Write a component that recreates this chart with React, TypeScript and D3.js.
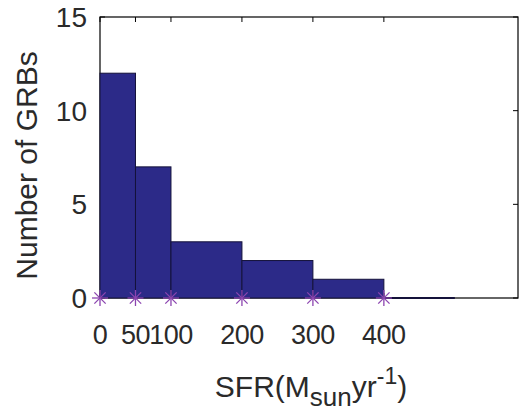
import React from "react";
import * as d3 from "d3";

const binEdges = [0, 50, 100, 200, 300, 400, 500];
const counts = [12, 7, 3, 2, 1, 0];
const markerX = [0, 50, 100, 200, 300, 400];
const xTicks = [0, 50, 100, 200, 300, 400];
const yTicks = [0, 5, 10, 15];

const W = 521;
const H = 417;
const left = 100;
const right = 518;
const top = 17;
const bottom = 298;

export default function App() {
  const x = d3.scaleLinear().domain([0, 589]).range([left, right]);
  const y = d3.scaleLinear().domain([0, 15]).range([bottom, top]);
  const font = "'Liberation Sans', Arial, sans-serif";
  const bars = counts.map((c, i) => ({ x0: binEdges[i], x1: binEdges[i + 1], c }));
  const star = (cx: number, cy: number, k: number) => {
    const r = 8;
    const d = r * Math.SQRT1_2;
    return (
      <g key={k} stroke="#8c45b0" strokeWidth={1.3}>
        <line x1={cx - r} y1={cy} x2={cx + r} y2={cy} />
        <line x1={cx} y1={cy - r} x2={cx} y2={cy + r} />
        <line x1={cx - d} y1={cy - d} x2={cx + d} y2={cy + d} />
        <line x1={cx - d} y1={cy + d} x2={cx + d} y2={cy - d} />
      </g>
    );
  };
  return (
    <svg width={W} height={H} style={{ position: "absolute", left: 0, top: 0, background: "#fff" }}>
      <rect x={0} y={0} width={W} height={H} fill="#fff" />
      {/* axes box */}
      <rect x={left} y={top} width={right - left} height={bottom - top} fill="none" stroke="#000" strokeWidth={1.2} />
      {/* ticks */}
      {xTicks.map((t) => (
        <g key={"xt" + t} stroke="#000" strokeWidth={1}>
          <line x1={x(t)} x2={x(t)} y1={bottom} y2={bottom - 5} />
          <line x1={x(t)} x2={x(t)} y1={top} y2={top + 5} />
        </g>
      ))}
      {yTicks.map((t) => (
        <g key={"yt" + t} stroke="#000" strokeWidth={1}>
          <line x1={left} x2={left + 5} y1={y(t)} y2={y(t)} />
          <line x1={right} x2={right - 5} y1={y(t)} y2={y(t)} />
        </g>
      ))}
      {/* bars */}
      {bars.map((b, i) =>
        b.c > 0 ? (
          <rect
            key={"b" + i}
            x={x(b.x0)}
            y={y(b.c)}
            width={x(b.x1) - x(b.x0)}
            height={y(0) - y(b.c)}
            fill="#2c2a88"
            stroke="#14123a"
            strokeWidth={1}
          />
        ) : (
          <line key={"b" + i} x1={x(b.x0)} x2={x(b.x1)} y1={y(0)} y2={y(0)} stroke="#14123a" strokeWidth={2} />
        )
      )}
      {/* markers */}
      {markerX.map((m, i) => star(x(m), y(0), i))}
      {/* tick labels */}
      {xTicks.map((t) => (
        <text key={"xl" + t} x={x(t)} y={344} textAnchor="middle" fontFamily={font} fontSize={27} fill="#2a2a2a" letterSpacing={-0.5}>
          {t}
        </text>
      ))}
      {yTicks.map((t) => (
        <text key={"yl" + t} x={87} y={y(t) + 10} textAnchor="end" fontFamily={font} fontSize={28} fill="#2a2a2a">
          {t}
        </text>
      ))}
      {/* axis labels */}
      <text x={311} y={397} textAnchor="middle" fontFamily={font} fontSize={30} fill="#2a2a2a">
        SFR(M
        <tspan fontSize={26} dy={9}>sun</tspan>
        <tspan dy={-9}>yr</tspan>
        <tspan fontSize={23} dy={-13}>-1</tspan>
        <tspan dy={13}>)</tspan>
      </text>
      <text
        transform={`translate(37,${(top + bottom) / 2 + 8}) rotate(-90)`}
        textAnchor="middle"
        fontFamily={font}
        fontSize={30}
        fill="#2a2a2a"
      >
        Number of GRBs
      </text>
    </svg>
  );
}
